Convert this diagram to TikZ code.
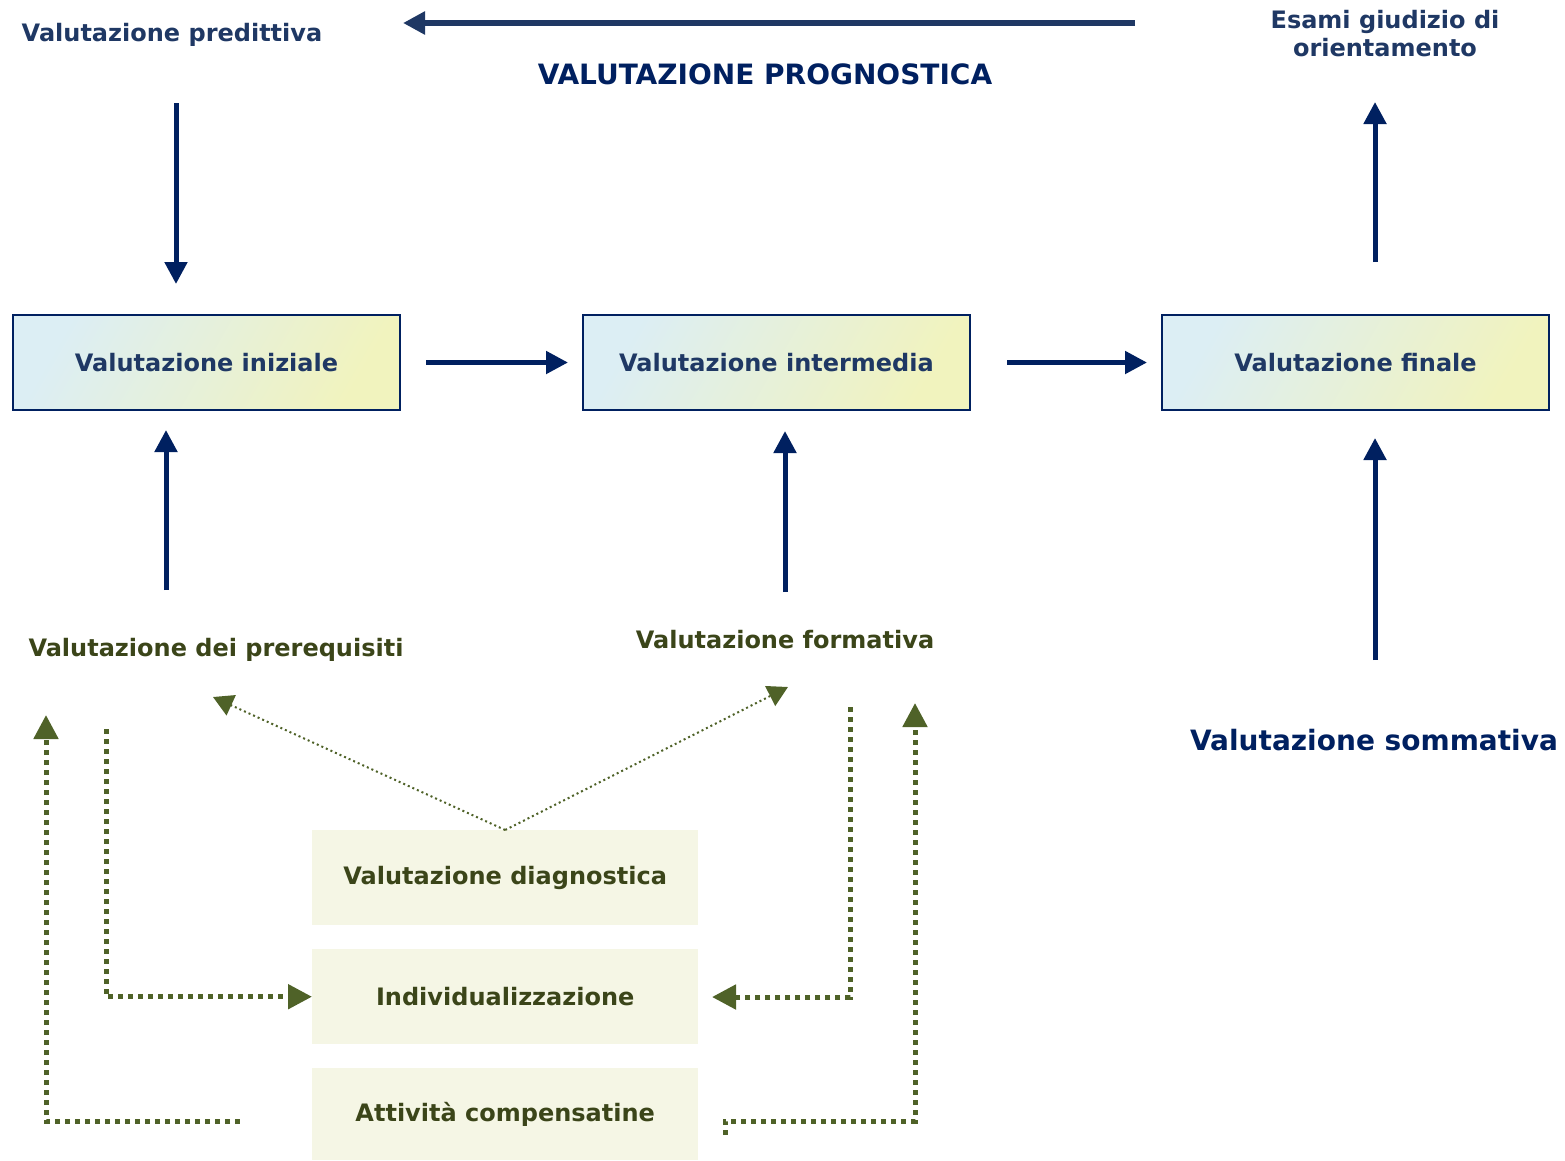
\documentclass[tikz,border=0pt]{standalone}
\usepackage{fontspec}
\setmainfont{DejaVu Sans}
\usetikzlibrary{arrows.meta}
\definecolor{navy}{HTML}{002060}
\definecolor{slate}{HTML}{1F3864}
\definecolor{olive}{HTML}{4F6228}
\definecolor{olivetxt}{HTML}{3B4519}
\definecolor{gA}{HTML}{DCEEF4}
\definecolor{gB}{HTML}{F1F3BE}
\definecolor{pale}{HTML}{F5F6E5}
\tikzset{
  x=1pt, y=-1pt,
  topbox/.style={draw=navy, line width=2pt, left color=gA, right color=gB, shading angle=60,
    minimum width=387pt, minimum height=95pt, inner sep=0pt, anchor=north west,
    font=\bfseries\fontsize{24}{28}\selectfont, text=slate},
  lowbox/.style={fill=pale, minimum width=386pt, minimum height=95pt, inner sep=0pt, anchor=north west,
    font=\bfseries\fontsize{24}{28}\selectfont, text=olivetxt},
  bluelbl/.style={font=\bfseries\fontsize{24}{28}\selectfont, text=slate, align=center},
  greenlbl/.style={font=\bfseries\fontsize{24}{28}\selectfont, text=olivetxt},
  biglbl/.style={font=\bfseries\fontsize{28}{32}\selectfont, text=navy},
  navyarrow/.style={draw=navy, line width=5pt, -{Triangle[length=22pt,width=22pt]}},
  slatearrow/.style={draw=slate, line width=6pt, -{Triangle[length=22pt,width=22pt]}},
  thinarrow/.style={draw=olive, line width=2pt, dash pattern=on 2pt off 3pt, -{Triangle[length=20pt,width=22pt]}},
  thickarrow/.style={draw=olive, line width=5pt, dash pattern=on 5pt off 5pt, -{Triangle[length=24pt,width=24pt]}},
}
\begin{document}
\begin{tikzpicture}
\useasboundingbox (0,0) rectangle (1565,1160);
% top texts
\node[bluelbl] (pred) at (172,35) {Valutazione predittiva};
\node[bluelbl] (esami) at (1385,34) {Esami giudizio di\\orientamento};
\node[biglbl] (progn) at (765,74) {VALUTAZIONE PROGNOSTICA};
\coordinate (ptopR) at (1135,23);
\coordinate (ptopL) at (403,23);
\draw[slatearrow] (ptopR) -- (ptopL);
% main boxes
\node[topbox] (ini) at (12,314) {Valutazione iniziale};
\node[topbox] (inter) at (582,314) {Valutazione intermedia};
\node[topbox] (fin) at (1161,314) {Valutazione finale};
% vertical arrows top
\coordinate (a1s) at (176,103); \coordinate (a1e) at (176,284);
\coordinate (a2s) at (1375,262); \coordinate (a2e) at (1375,102);
\draw[navyarrow] (a1s) -- (a1e);
\draw[navyarrow] (a2s) -- (a2e);
\draw[navyarrow] ([xshift=25pt]ini.east) -- ([xshift=-14pt]inter.west);
\draw[navyarrow] ([xshift=36pt]inter.east) -- ([xshift=-14pt]fin.west);
% lower labels
\node[greenlbl] (prer) at (216,650) {Valutazione dei prerequisiti};
\node[greenlbl] (form) at (785,640) {Valutazione formativa};
\node[biglbl] (somm) at (1374,740) {Valutazione sommativa};
\coordinate (b1s) at (166,590); \coordinate (b1e) at (166,430);
\coordinate (b2s) at (785,592); \coordinate (b2e) at (785,431);
\coordinate (b3s) at (1375,660); \coordinate (b3e) at (1375,438);
\draw[navyarrow] (b1s) -- (b1e);
\draw[navyarrow] (b2s) -- (b2e);
\draw[navyarrow] (b3s) -- (b3e);
% lower boxes
\node[lowbox] (diag) at (312,830) {Valutazione diagnostica};
\node[lowbox] (indiv) at (312,949) {Individualizzazione};
\node[lowbox, minimum height=92pt] (comp) at (312,1068) {\raisebox{-3pt}{Attività compensatine}};
% thin dotted arrows
\coordinate (t1e) at (213,697);
\coordinate (t2e) at (788,687);
\draw[thinarrow] (diag.north) -- (t1e);
\draw[thinarrow] (diag.north) -- (t2e);
% thick dotted connectors
\coordinate (c1s) at (106,729);
\draw[thickarrow] (c1s) |- (indiv.west);
\coordinate (c2s) at (850,707);
\coordinate (c2e) at (712,997);
\draw[thickarrow] (c2s) |- (c2e);
\coordinate (c3s) at (237,1124);
\coordinate (c3c) at (46,1121);
\coordinate (c3e) at (46,715);
\draw[thickarrow] (c3s) -- (237,1121) -- (c3c) -- (c3e);
\coordinate (c4s) at (725,1135);
\coordinate (c4c) at (915,1121);
\coordinate (c4e) at (915,703);
\draw[thickarrow] (c4s) |- (c4c) -- (c4e);
\end{tikzpicture}
\end{document}
